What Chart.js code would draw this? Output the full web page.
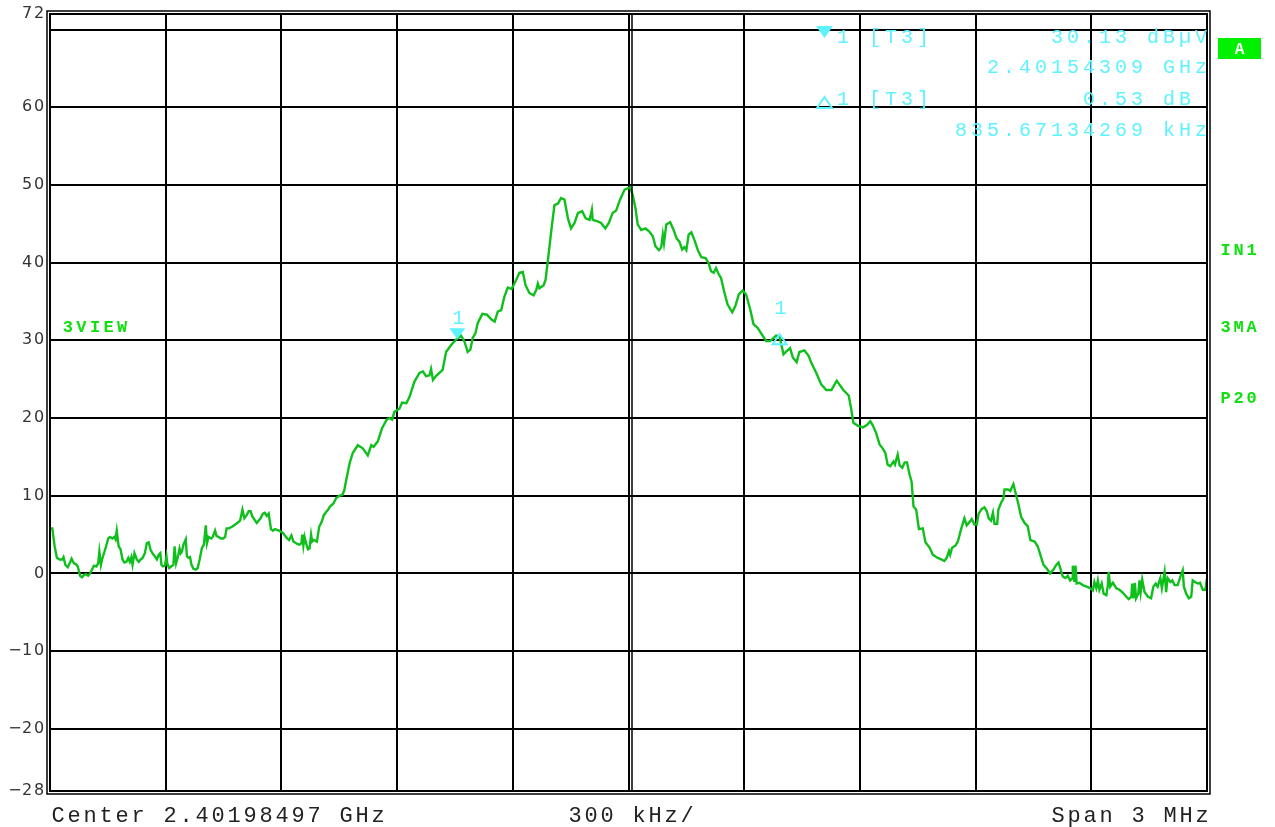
<!DOCTYPE html>
<html><head><meta charset="utf-8">
<script src="https://cdn.jsdelivr.net/npm/chart.js@4/dist/chart.umd.min.js"></script>
<style>html,body{margin:0;padding:0;background:#fff;overflow:hidden}</style>
</head><body>
<canvas id="c" width="1275" height="827"></canvas>
<script>
// Frequency offset from centre (kHz) and level (dBµV)
const freqKHz = [
-1500,-1494,-1488,-1482,-1475,-1468,-1465,-1460,-1454,-1449,
-1444,-1438,-1433,-1428,-1422,-1417,-1412,-1407,-1401,-1396,
-1391,-1386,-1380,-1375,-1372,-1368,-1365,-1360,-1354,-1349,
-1344,-1338,-1333,-1330,-1327,-1322,-1317,-1312,-1307,-1302,
-1297,-1293,-1289,-1286,-1281,-1275,-1270,-1265,-1260,-1254,
-1249,-1244,-1239,-1233,-1228,-1223,-1218,-1214,-1211,-1207,
-1202,-1198,-1196,-1191,-1186,-1180,-1177,-1173,-1168,-1164,
-1161,-1158,-1154,-1148,-1145,-1141,-1137,-1133,-1128,-1122,
-1117,-1112,-1106,-1101,-1096,-1093,-1089,-1082,-1078,-1072,
-1068,-1063,-1057,-1051,-1046,-1042,-1036,-1028,-1017,-1007,
-1001,-996,-990,-985,-980,-975,-964,-954,-948,-943,
-938,-933,-927,-922,-917,-906,-896,-885,-880,-874,
-869,-859,-853,-848,-846,-843,-840,-835,-831,-827,
-823,-820,-816,-808,-802,-795,-790,-784,-779,-774,
-765,-758,-750,-742,-737,
-732,-723,-715,-702,-689,-676,-667,-661,-650,-639,
-627,-620,-613,-607,-594,-587,-576,-568,-555,-542,
-533,-525,-516,-512,-507,-499,-482,-473,-460,-447,
-434,-425,-417,-410,-404,-397,-391,-379,-367,-356,
-347,-339,-330,-322,-313,-303,-291,-283,-274,-267,
-257,-246,-239,-235,-231,-220,-215,-209,-200,-192,
-183,-175,-166,-157,-149,-140,-131,-120,-111,-101,
-95,-93,-80,-71,-60,-51,-41,-32,-22,-10,
4,11,18,24,33,44,54,63,70,79,
85,89,92,98,108,117,125,132,139,145,
150,156,163,171,180,189,200,208,214,221,
227,232,240,249,257,269,277,286,296,305,
316,324,335,344,357,367,383,392,396,402,
410,419,426,436,443,456,467,474,487,500,
513,526,532,540,547,557,571,577,583,595,
608,618,627,633,642,651,659,666,672,679,
684,687,691,694,698,703,710,716,722,729,
734,739,746,753,763,770,781,789,802,811,
819,825,831,834,839,848,854,863,871,877,
884,890,897,903,908,916,923,929,934,940,
945,949,956,959,966,972,975,984,990,998,
1005,1011,1018,1027,1035,1042,1053,1061,1068,1076,
1085,1093,1102,1109,1115,1120,1126,1133,1139,1145,
1151,1152,1156,1159,1162,1169,1178,1188,1197,1204,
1208,1213,1217,1221,1227,1232,1239,1243,1245,1249,
1256,1265,1273,1282,1291,1297,1304,1306,1309,1313,
1316,1322,1325,1328,1332,1338,1347,1355,1361,1367,
1372,1379,1383,1390,1394,1398,1405,1410,1416,1424,
1431,1437,1440,1446,1453,1459,1463,1469,1476,1482,
1489,1496,1500
];
const levelDb = [
5.8,5.8,3.5,2.0,1.8,1.8,2.1,1.1,0.8,1.3,
1.9,1.3,1.2,0.9,-0.3,-0.5,-0.2,-0.1,-0.3,0.0,
0.5,1.0,0.9,1.3,2.8,1.1,1.8,2.6,3.6,4.5,
4.7,4.5,4.7,4.4,5.5,3.5,3.1,1.8,1.4,1.5,
2.0,1.5,2.1,1.1,2.6,1.8,1.5,1.8,2.0,2.6,
3.9,4.0,3.0,2.5,2.2,1.8,2.4,2.6,1.1,0.9,
1.0,2.2,1.3,0.7,0.9,1.1,3.5,1.3,2.2,3.2,
2.6,2.8,3.7,4.4,2.2,2.0,2.1,1.1,0.6,0.5,
0.7,1.8,3.3,3.7,6.2,3.9,4.7,4.5,4.7,5.5,
4.8,4.7,4.5,4.5,4.7,5.8,5.8,6.0,6.4,6.8,
8.2,7.1,7.5,8.0,8.0,7.3,6.5,7.1,7.7,7.8,
7.4,7.7,5.7,5.5,5.7,5.5,5.2,4.5,4.3,4.9,
4.1,3.8,3.7,3.9,5.0,3.6,4.7,3.7,3.1,3.2,
5.0,4.1,4.3,4.1,6.0,6.7,7.5,7.9,8.2,8.6,
9.0,9.7,10.0,10.1,10.7,
12.0,14.2,15.5,16.5,16.1,15.2,16.5,16.3,17.0,18.7,
19.8,20.0,19.8,20.8,21.2,22.0,21.9,22.7,24.7,25.8,
26.0,25.4,25.5,26.3,24.9,25.4,26.2,28.5,29.4,30.1,
30.6,29.8,28.5,28.8,30.3,30.9,32.2,33.4,33.3,32.7,
32.4,33.7,33.9,35.6,36.8,36.6,37.8,38.7,38.8,37.1,
36.1,35.8,36.5,37.3,36.7,37.1,37.8,40.3,44.2,47.4,
47.6,48.3,48.1,45.7,44.4,45.1,46.4,46.6,45.7,45.5,
46.8,45.5,45.3,45.1,44.4,45.1,46.4,46.7,48.1,49.4,
49.7,48.7,47.0,44.9,44.2,44.4,44.0,43.4,42.1,41.6,
42.0,43.6,42.5,44.9,45.2,44.2,43.1,42.7,41.7,42.0,
41.6,43.6,43.9,42.9,41.6,40.7,40.6,39.9,38.9,38.7,
39.3,38.7,38.0,36.1,34.6,33.6,34.4,35.9,36.4,35.9,
33.9,32.1,31.6,30.9,29.9,29.9,30.6,30.5,29.5,28.2,
28.6,29.0,27.8,27.2,28.5,28.7,28.0,27.1,25.8,24.3,
23.6,23.6,24.1,24.8,24.3,23.6,22.9,21.3,19.4,19.0,
18.8,19.1,19.6,19.1,18.1,16.6,16.1,15.5,14.0,13.8,
14.2,14.4,14.0,14.6,15.3,13.9,13.6,14.3,14.3,12.7,
11.8,8.6,8.2,5.7,5.8,4.0,3.3,2.4,2.0,1.8,
1.6,2.0,2.9,2.4,3.3,3.6,4.1,5.8,7.1,6.2,
6.6,7.0,6.3,6.3,7.7,8.3,8.5,8.0,7.1,6.8,
7.8,6.4,6.4,8.2,9.1,9.6,10.8,10.8,10.6,11.5,
10.1,8.9,7.3,6.5,6.1,4.3,4.1,3.5,2.4,1.1,
0.6,0.0,0.5,1.1,1.4,0.6,-0.4,-0.6,-0.3,-0.9,
-0.6,1.0,-1.1,1.0,-1.3,-1.2,-1.5,-1.7,-1.9,-2.2,
-1.1,-1.9,-0.9,-2.1,-1.3,-2.6,-2.8,-1.5,0.2,-1.7,
-1.2,-1.9,-2.1,-2.5,-3.0,-3.3,-3.0,-1.3,-3.2,-1.2,
-3.2,-2.6,-0.9,-2.4,-0.8,-2.4,-3.0,-3.2,-1.7,-1.3,
-1.7,-0.6,-1.9,0.2,-2.4,-0.6,-1.1,-0.9,-1.5,-1.5,
-0.4,0.4,-1.7,-2.6,-3.2,-3.0,-0.9,-1.1,-1.3,-1.2,
-2.1,-2.1,-0.6
];
const yTicks = [-28,-20,-10,0,10,20,30,40,50,60,70,72];
const yTickLabels = ['−28','−20','−10','0','10','20','30','40','50','60','','72'];
const xTicks = [-1500,-1200,-900,-600,-300,0,300,600,900,1200,1500];
const bottomTexts = ['Center 2.40198497 GHz','300 kHz/','Span 3 MHz'];
const markerTexts = ['1 [T3]','30.13 dBµV','2.40154309 GHz','1 [T3]','0.53 dB ','835.67134269 kHz'];
const sideTexts = ['A','IN1','3MA','P20','3VIEW'];
const marker1 = {f:-443.88, v:30.13};
const delta1 = {f:391.79, v:30.66};

const CYAN = '#5ef2ff';
const GREEN = '#10e010';

function spaced(ctx, txt, x, y, pitch, align){
  const chars = [...txt];
  const start = align === 'right' ? x - chars.length*pitch : x;
  ctx.textAlign = 'center';
  chars.forEach((ch,i)=>{ if(ch!==' ') ctx.fillText(ch, start + i*pitch + pitch/2, y); });
}

const decor = {
  id:'decor',
  afterDraw(chart){
    const ctx = chart.ctx, a = chart.chartArea;
    const xs = chart.scales.x, ys = chart.scales.y;
    ctx.save();
    // double frame
    ctx.strokeStyle = '#000'; ctx.lineWidth = 1.5;
    ctx.strokeRect(a.left-3, a.top-3, (a.right-a.left)+6, (a.bottom-a.top)+6);
    ctx.lineWidth = 2;
    ctx.strokeRect(a.left, a.top, a.right-a.left, a.bottom-a.top);
    // double centre line
    const cx = Math.round(xs.getPixelForValue(0));
    ctx.lineWidth = 1.5;
    ctx.beginPath(); ctx.moveTo(cx+3, a.top); ctx.lineTo(cx+3, a.bottom); ctx.stroke();

    // y labels
    ctx.fillStyle = '#333'; ctx.font = '16px "DejaVu Sans"'; ctx.textBaseline = 'middle';
    yTicks.forEach((v,i)=>{
      if(!yTickLabels[i]) return;
      spaced(ctx, yTickLabels[i], 45, ys.getPixelForValue(v), 12, 'right');
    });

    // bottom texts
    ctx.fillStyle = '#222'; ctx.font = '22px "Liberation Mono"'; ctx.textBaseline = 'alphabetic';
    spaced(ctx, bottomTexts[0], 50, 822, 16, 'left');
    spaced(ctx, bottomTexts[1], 567, 822, 16, 'left');
    spaced(ctx, bottomTexts[2], 1210, 822, 16, 'right');

    // marker info block
    ctx.fillStyle = CYAN; ctx.font = '20px "Liberation Mono"';
    spaced(ctx, markerTexts[0], 835, 43, 16, 'left');
    spaced(ctx, markerTexts[1], 1209, 43, 16, 'right');
    spaced(ctx, markerTexts[2], 1209, 73, 16, 'right');
    spaced(ctx, markerTexts[3], 835, 105, 16, 'left');
    spaced(ctx, markerTexts[4], 1209, 105, 16, 'right');
    spaced(ctx, markerTexts[5], 1209, 136, 16, 'right');
    // filled down triangle
    ctx.beginPath(); ctx.moveTo(816,26); ctx.lineTo(833,26); ctx.lineTo(824.5,38); ctx.closePath(); ctx.fill();
    // hollow up triangle
    ctx.strokeStyle = CYAN; ctx.lineWidth = 2;
    ctx.beginPath(); ctx.moveTo(817,108); ctx.lineTo(832,108); ctx.lineTo(824.5,97); ctx.closePath(); ctx.stroke();

    // markers on trace
    const m1x = xs.getPixelForValue(marker1.f), m1y = ys.getPixelForValue(marker1.v);
    ctx.beginPath(); ctx.moveTo(m1x-8, m1y-11); ctx.lineTo(m1x+8, m1y-11); ctx.lineTo(m1x, m1y); ctx.closePath(); ctx.fill();
    const d1x = xs.getPixelForValue(delta1.f), d1y = ys.getPixelForValue(delta1.v);
    ctx.beginPath(); ctx.moveTo(d1x-7, d1y+9); ctx.lineTo(d1x+7, d1y+9); ctx.lineTo(d1x, d1y-1); ctx.closePath(); ctx.stroke();
    ctx.font = '20px "Liberation Mono"'; ctx.textAlign = 'center'; ctx.textBaseline = 'alphabetic';
    ctx.fillText('1', m1x+1, m1y-15);
    ctx.fillText('1', d1x+1, d1y-21);

    // side labels
    ctx.fillStyle = '#00f000';
    ctx.fillRect(1218, 38, 43, 21);
    ctx.fillStyle = '#fff'; ctx.font = 'bold 16px "Liberation Mono"'; ctx.textAlign='center';
    ctx.fillText(sideTexts[0], 1239.5, 54);
    ctx.fillStyle = GREEN; ctx.font = 'bold 17px "Liberation Mono"';
    spaced(ctx, sideTexts[1], 1219, 255, 13, 'left');
    spaced(ctx, sideTexts[2], 1219, 332, 13, 'left');
    spaced(ctx, sideTexts[3], 1219, 403, 13, 'left');
    spaced(ctx, sideTexts[4], 61, 332, 13.6, 'left');
    ctx.restore();
  }
};

new Chart(document.getElementById('c'), {
  type:'line',
  data:{ datasets:[{
    data: freqKHz.map((f,i)=>({x:f, y:levelDb[i]})),
    borderColor:'#0fbf1c', borderWidth:2.4, pointRadius:0, tension:0, fill:false
  }]},
  options:{
    responsive:false, animation:false, devicePixelRatio:1,
    layout:{padding:{left:50, right:68, top:14, bottom:36}},
    plugins:{legend:{display:false}, tooltip:{enabled:false}},
    scales:{
      x:{type:'linear', min:-1500, max:1500,
         afterBuildTicks:s=>{ s.ticks = xTicks.map(v=>({value:v})); },
         ticks:{display:false}, grid:{color:'#000', lineWidth:2, drawTicks:false},
         border:{display:false}, afterFit:s=>{ s.height = 0; }},
      y:{type:'linear', min:-28, max:72,
         afterBuildTicks:s=>{ s.ticks = yTicks.map(v=>({value:v})); },
         ticks:{display:false}, grid:{color:'#000', lineWidth:2, drawTicks:false},
         border:{display:false}, afterFit:s=>{ s.width = 0; }}
    }
  },
  plugins:[decor]
});
</script>
</body></html>
